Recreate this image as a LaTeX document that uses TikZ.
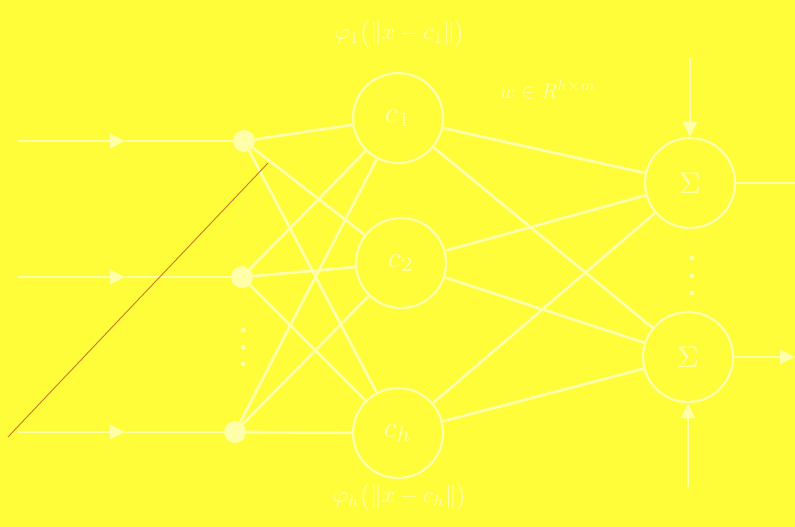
\documentclass[tikz,border=0pt]{standalone}
\usepackage{graphicx}
\usepackage{amsmath}
\usetikzlibrary{arrows.meta}
\definecolor{bg}{RGB}{255,252,58}
\definecolor{ln}{RGB}{255,255,170}
\definecolor{scr}{RGB}{200,120,40}
\newcommand{\bigtext}[2]{\scalebox{#1}{#2}}
\begin{document}
\begin{tikzpicture}[x=1pt,y=-1pt,
  wire/.style={draw=ln,line width=2.8pt},
  tip/.style={-{Triangle[width=14pt,length=15pt,fill=ln,color=ln]}},
  hid/.style={circle,draw=ln,line width=2.3pt,minimum size=90pt,inner sep=0pt,text=ln},
  inp/.style={circle,fill=ln,minimum size=22pt,inner sep=0pt},
  dot/.style={circle,fill=ln,minimum size=5pt,inner sep=0pt},
  lab/.style={text=ln}]
\fill[bg] (0,0) rectangle (795,527);
\useasboundingbox (0,0) rectangle (795,527);
% input nodes
\node[inp] (i1) at (244,141) {};
\node[inp] (i2) at (242,277) {};
\node[inp] (i3) at (235,432) {};
\node[dot] (d1) at (243,330) {};
\node[dot] (d2) at (243,347) {};
\node[dot] (d3) at (243,364) {};
% hidden
\node[hid] (c1) at (398,118) {\bigtext{3}{$c_1$}};
\node[hid] (c2) at (401,263) {\bigtext{3}{$c_2$}};
\node[hid] (ch) at (398,433) {\bigtext{3}{$c_h$}};
% outputs
\node[hid] (s1) at (690,183) {\bigtext{3}{$\Sigma$}};
\node[hid] (s2) at (688,357) {\bigtext{3}{$\Sigma$}};
\node[dot] (e1) at (692,258) {};
\node[dot] (e2) at (692,276) {};
\node[dot] (e3) at (692,293) {};
% labels
\node[lab] (l1) at (400,34) {\bigtext{2.3}{$\varphi_1\bigl(\|x-c_1\|\bigr)$}};
\node[lab] (lh) at (400,497) {\bigtext{2.3}{$\varphi_h\bigl(\|x-c_h\|\bigr)$}};
\node[lab] (lw) at (548,90) {\bigtext{2.1}{$w\in R^{h\times m}$}};
% input wires
\coordinate (a1) at (18,141); \coordinate (m1) at (125,141);
\coordinate (a2) at (18,277); \coordinate (m2) at (125,277);
\coordinate (a3) at (18,432); \coordinate (m3) at (125,432);
\foreach \k in {1,2,3}{
  \draw[wire,tip] (a\k) -- (m\k);
  \draw[wire] (m\k) -- (i\k);
}
% input to hidden
\foreach \i in {i1,i2,i3}{
  \foreach \h in {c1,c2,ch}{
    \draw[wire] (\i) -- (\h);
  }
}
% hidden to output
\foreach \h in {c1,c2,ch}{
  \foreach \s in {s1,s2}{
    \draw[wire] (\h) -- (\s);
  }
}
% bias and output arrows
\coordinate (t1) at (690,58);
\draw[wire,tip] (t1) -- (s1.north);
\coordinate (o1) at (795,183);
\draw[wire] (s1.east) -- (o1);
\coordinate (t2) at (688,488);
\draw[wire,tip] (t2) -- (s2.south);
\coordinate (o2) at (795,357);
\draw[wire,tip] (s2.east) -- (o2);
% scratch
\coordinate (r1) at (8,437); \coordinate (r2) at (268,163);
\draw[scr,line width=0.9pt] (r1) .. controls (95,345) and (195,240) .. (r2);
\end{tikzpicture}
\end{document}
